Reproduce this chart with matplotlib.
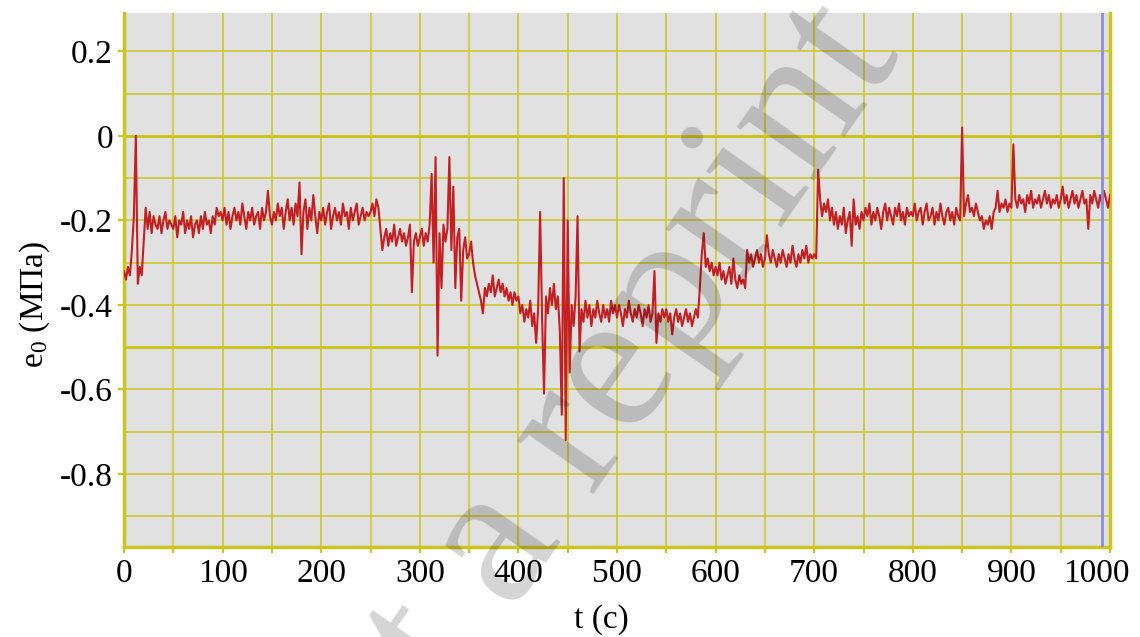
import numpy as np
import matplotlib
matplotlib.use("Agg")
import matplotlib.pyplot as plt
from matplotlib.ticker import FixedLocator, FixedFormatter, MultipleLocator
import matplotlib.transforms as mtransforms

plt.rcParams['font.family'] = ['Liberation Serif', 'DejaVu Serif']
plt.rcParams['mathtext.fontset'] = 'custom'
plt.rcParams['mathtext.rm'] = 'Liberation Serif'
plt.rcParams['mathtext.it'] = 'Liberation Serif:italic'
plt.rcParams['axes.unicode_minus'] = False

# e0 record, MPa, sampled every 2 s from 0 to 1000 s
e0_000_100 = [
    -0.32, -0.34, -0.31, -0.33, -0.27, -0.19, 0.00, -0.35, -0.31, -0.33, -0.25, -0.17, -0.22,
    -0.18, -0.23, -0.19, -0.21, -0.22, -0.19, -0.23, -0.20, -0.18, -0.22, -0.20, -0.21,
    -0.22, -0.19, -0.24, -0.20, -0.21, -0.18, -0.23, -0.20, -0.22, -0.19, -0.24, -0.21, -0.20,
    -0.23, -0.19, -0.22, -0.18, -0.21, -0.20, -0.23, -0.19, -0.21, -0.17, -0.19, -0.18,
]
e0_100_200 = [
    -0.20, -0.17, -0.21, -0.18, -0.22, -0.19, -0.17, -0.20, -0.18, -0.21, -0.16, -0.19, -0.22,
    -0.18, -0.20, -0.17, -0.21, -0.19, -0.18, -0.22, -0.17, -0.20, -0.18, -0.13, -0.19,
    -0.21, -0.18, -0.20, -0.16, -0.19, -0.17, -0.22, -0.18, -0.15, -0.20, -0.17, -0.21, -0.16,
    -0.19, -0.11, -0.28, -0.18, -0.15, -0.22, -0.17, -0.20, -0.14, -0.19, -0.23, -0.18,
]
e0_200_300 = [
    -0.20, -0.17, -0.21, -0.18, -0.16, -0.22, -0.19, -0.17, -0.20, -0.18, -0.21, -0.16, -0.19,
    -0.18, -0.22, -0.17, -0.20, -0.18, -0.16, -0.21, -0.19, -0.17, -0.20, -0.18, -0.19,
    -0.18, -0.16, -0.19, -0.15, -0.17, -0.22, -0.27, -0.24, -0.22, -0.26, -0.23, -0.25, -0.21,
    -0.26, -0.24, -0.22, -0.25, -0.23, -0.26, -0.24, -0.21, -0.37, -0.25, -0.23, -0.26,
]
e0_300_400 = [
    -0.24, -0.22, -0.26, -0.23, -0.25, -0.21, -0.09, -0.30, -0.05, -0.52, -0.23, -0.36, -0.21,
    -0.25, -0.22, -0.05, -0.27, -0.12, -0.36, -0.24, -0.22, -0.39, -0.27, -0.24, -0.29,
    -0.28, -0.25, -0.30, -0.33, -0.35, -0.37, -0.39, -0.42, -0.36, -0.38, -0.35, -0.37, -0.33,
    -0.38, -0.36, -0.34, -0.37, -0.35, -0.38, -0.36, -0.39, -0.37, -0.40, -0.37, -0.39,
]
e0_400_500 = [
    -0.38, -0.42, -0.40, -0.44, -0.41, -0.43, -0.39, -0.45, -0.42, -0.49, -0.41, -0.18, -0.43,
    -0.61, -0.38, -0.42, -0.36, -0.40, -0.35, -0.41, -0.38, -0.46, -0.66, -0.10, -0.72,
    -0.20, -0.56, -0.40, -0.45, -0.38, -0.19, -0.51, -0.41, -0.44, -0.39, -0.43, -0.40, -0.45,
    -0.41, -0.43, -0.39, -0.42, -0.44, -0.40, -0.43, -0.41, -0.44, -0.39, -0.42, -0.40,
]
e0_500_600 = [
    -0.43, -0.40, -0.42, -0.45, -0.41, -0.43, -0.39, -0.42, -0.44, -0.41, -0.43, -0.40, -0.42,
    -0.45, -0.41, -0.43, -0.40, -0.44, -0.42, -0.32, -0.49, -0.42, -0.44, -0.41, -0.43,
    -0.41, -0.44, -0.42, -0.47, -0.43, -0.41, -0.44, -0.42, -0.45, -0.43, -0.41, -0.44, -0.42,
    -0.45, -0.43, -0.41, -0.43, -0.36, -0.28, -0.23, -0.31, -0.29, -0.32, -0.30, -0.33,
]
e0_600_700 = [
    -0.31, -0.33, -0.30, -0.34, -0.32, -0.35, -0.33, -0.31, -0.35, -0.29, -0.34, -0.36, -0.33,
    -0.35, -0.34, -0.36, -0.27, -0.30, -0.28, -0.31, -0.29, -0.27, -0.30, -0.28, -0.31,
    -0.29, -0.235, -0.28, -0.30, -0.27, -0.29, -0.31, -0.28, -0.30, -0.27, -0.29, -0.31, -0.28,
    -0.30, -0.26, -0.29, -0.31, -0.28, -0.30, -0.27, -0.29, -0.26, -0.30, -0.28, -0.29,
]
e0_700_800 = [
    -0.28, -0.29, -0.08, -0.15, -0.19, -0.16, -0.18, -0.15, -0.20, -0.17, -0.21, -0.18, -0.22,
    -0.19, -0.21, -0.17, -0.23, -0.20, -0.18, -0.26, -0.15, -0.21, -0.19, -0.22, -0.18,
    -0.20, -0.17, -0.19, -0.16, -0.21, -0.18, -0.20, -0.17, -0.19, -0.22, -0.18, -0.16, -0.20,
    -0.17, -0.19, -0.21, -0.17, -0.19, -0.16, -0.20, -0.18, -0.21, -0.17, -0.19, -0.18,
]
e0_800_900 = [
    -0.19, -0.16, -0.20, -0.18, -0.17, -0.21, -0.18, -0.16, -0.20, -0.19, -0.17, -0.21, -0.18,
    -0.20, -0.16, -0.19, -0.21, -0.18, -0.17, -0.20, -0.18, -0.21, -0.17, -0.19, -0.20,
    0.02, -0.19, -0.16, -0.14, -0.18, -0.17, -0.19, -0.16, -0.18, -0.20, -0.19, -0.22, -0.20,
    -0.21, -0.19, -0.22, -0.18, -0.17, -0.13, -0.18, -0.16, -0.17, -0.15, -0.18, -0.16,
]
e0_900_1000 = [
    -0.17, -0.02, -0.15, -0.17, -0.14, -0.16, -0.15, -0.18, -0.14, -0.16, -0.13, -0.17, -0.15,
    -0.16, -0.14, -0.17, -0.15, -0.13, -0.16, -0.14, -0.17, -0.15, -0.16, -0.14, -0.17,
    -0.15, -0.12, -0.16, -0.14, -0.17, -0.15, -0.13, -0.16, -0.14, -0.17, -0.15, -0.13, -0.16,
    -0.15, -0.22, -0.14, -0.16, -0.13, -0.15, -0.17, -0.14, -0.16, -0.13, -0.15, -0.17,
    -0.14,
]

x_ticks = [0, 100, 200, 300, 400, 500, 600, 700, 800, 900, 1000]
x_tick_labels = ["0", "100", "200", "300", "400", "500", "600", "700", "800", "900", "1000"]
y_ticks = [0.2, 0.0, -0.2, -0.4, -0.6, -0.8]
y_tick_labels = ["0.2", "0", "-0.2", "-0.4", "-0.6", "-0.8"]
cursor_time = 991.5

e0 = np.concatenate([e0_000_100, e0_100_200, e0_200_300, e0_300_400, e0_400_500,
                     e0_500_600, e0_600_700, e0_700_800, e0_800_900, e0_900_1000])
t = np.linspace(0, 1000, len(e0))

grid_col = '#cbc51f'

fig = plt.figure(figsize=(11.4, 6.37), dpi=100)
ax = fig.add_axes([124 / 1140, 90 / 637, 986 / 1140, 534 / 637])
ax.set_facecolor('#e1e1e1')

ax.set_xlim(0, 1000)
ax.set_ylim(-0.973, 0.291)

ax.xaxis.set_major_locator(FixedLocator(x_ticks))
ax.xaxis.set_major_formatter(FixedFormatter(x_tick_labels))
ax.xaxis.set_minor_locator(MultipleLocator(50))
ax.yaxis.set_major_locator(FixedLocator(y_ticks))
ax.yaxis.set_major_formatter(FixedFormatter(y_tick_labels))
ax.yaxis.set_minor_locator(MultipleLocator(0.1))

ax.set_axisbelow(True)
ax.grid(which='both', color=grid_col, lw=1.1)
for yv in (0.0, -0.5):
    ax.axhline(yv, color=grid_col, lw=2.2, zorder=1)

ax.plot(t, e0, color='#c41f22', lw=1.5, zorder=3)
ax.axvline(cursor_time, color='#8c8cd6', lw=2.0, zorder=4)

for side in ('left', 'bottom', 'right'):
    ax.spines[side].set_color(grid_col)
    ax.spines[side].set_linewidth(2.5)
ax.spines['top'].set_visible(False)

ax.tick_params(which='both', direction='out', color=grid_col, width=1.5,
               top=False, right=False)
ax.tick_params(which='major', length=4, labelsize=24, labelcolor='black', pad=4)
ax.tick_params(which='minor', length=4)
ax.tick_params(axis='y', which='minor', length=0)

# keep the last tick label inside the figure
last = ax.get_xticklabels()[-1]
last.set_transform(last.get_transform() +
                   mtransforms.ScaledTranslation(-14 / 100, 0, fig.dpi_scale_trans))

fig.text(601 / 1140, 1 - 620 / 637, "t (с)", ha='center', va='center', fontsize=24)
fig.text(35 / 1140, 1 - 304 / 637, r"$\mathrm{e_0}$ (МПа)", rotation=90,
         ha='center', va='center', fontsize=24)

fig.text(0.270, -0.418, "Not a reprint", rotation=55, rotation_mode='anchor',
         ha='left', va='baseline', fontsize=146, color='black', alpha=0.17,
         family='Liberation Serif')

fig.savefig('out.png', dpi=100)
